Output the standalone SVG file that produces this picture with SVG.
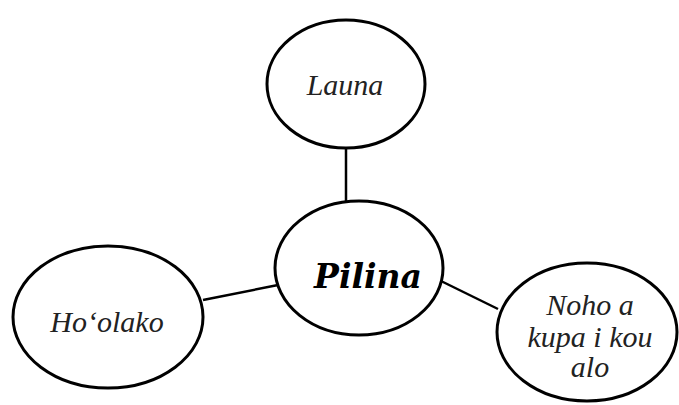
<svg xmlns="http://www.w3.org/2000/svg" width="679" height="405" viewBox="0 0 679 405">
<style>
.node{fill:#fff;stroke:#000;stroke-width:3}
.conn line{stroke:#000;stroke-width:2.5}
.lbl{font-family:"Liberation Serif",serif;font-style:italic;font-size:30px;fill:#222;text-anchor:middle}
.main{font-family:"DejaVu Serif",serif;font-style:italic;font-weight:bold;font-size:33px;fill:#000;text-anchor:middle}
</style>
<rect width="679" height="405" fill="#fff"/>
<g id="connectors" class="conn">
<line x1="346" y1="148" x2="346" y2="202"/>
<line x1="203" y1="300" x2="278" y2="285"/>
<line x1="441" y1="281" x2="498" y2="309"/>
</g>
<g id="launa"><ellipse class="node" cx="346" cy="84" rx="79" ry="64"/><text class="lbl" x="345" y="95">Launa</text></g>
<g id="pilina"><ellipse class="node" cx="359" cy="268" rx="84" ry="67"/><text class="main" x="368" y="288">Pilina</text></g>
<g id="hoolako"><ellipse class="node" cx="108" cy="317" rx="95" ry="71"/><text class="lbl" x="107" y="332">Ho‘olako</text></g>
<g id="noho"><ellipse class="node" cx="587" cy="332" rx="90" ry="69"/><text class="lbl" x="590" y="315">Noho a</text><text class="lbl" x="590" y="347">kupa i kou</text><text class="lbl" x="590" y="377">alo</text></g>
</svg>
